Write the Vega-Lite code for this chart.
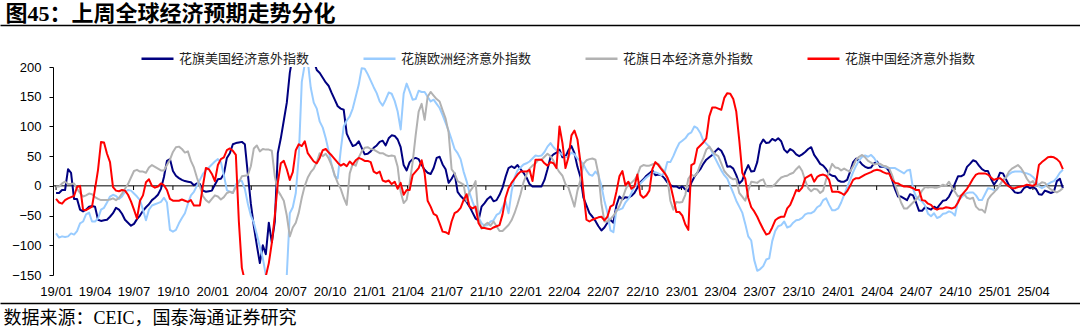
{
"$schema":"https://vega.github.io/schema/vega-lite/v6.json",
"width":1080,"height":208,"autosize":"none",
"padding":{"left":0,"top":67,"right":0,"bottom":53},
"background":"white",
"config":{"view":{"stroke":null},
 "axisY":{"orient":"left","offset":-53,"values":[-150,-100,-50,0,50,100,150,200],"domain":true,"domainColor":"#000000","domainWidth":1,
    "ticks":true,"tickColor":"#000000","tickSize":4,"tickWidth":1,"grid":false,"labelPadding":8,"labelFont":"Liberation Sans","labelFontSize":13,"labelColor":"#000000"}},
"datasets":{
"quarters":[{"q":"2019-01-01"},{"q":"2019-04-01"},{"q":"2019-07-01"},{"q":"2019-10-01"},{"q":"2020-01-01"},{"q":"2020-04-01"},{"q":"2020-07-01"},{"q":"2020-10-01"},{"q":"2021-01-01"},{"q":"2021-04-01"},{"q":"2021-07-01"},{"q":"2021-10-01"},{"q":"2022-01-01"},{"q":"2022-04-01"},{"q":"2022-07-01"},{"q":"2022-10-01"},{"q":"2023-01-01"},{"q":"2023-04-01"},{"q":"2023-07-01"},{"q":"2023-10-01"},{"q":"2024-01-01"},{"q":"2024-04-01"},{"q":"2024-07-01"},{"q":"2024-10-01"},{"q":"2025-01-01"},{"q":"2025-04-01"}],
"main":[
{"d":"2019-01-01","us":-12,"eu":-80,"jp":-1,"cn":-22},
{"d":"2019-01-08","us":-12,"eu":-87,"jp":-1,"cn":-28},
{"d":"2019-01-15","us":-7,"eu":-85,"jp":4,"cn":-30},
{"d":"2019-01-22","us":-7,"eu":-86,"jp":7,"cn":-24},
{"d":"2019-01-29","us":28,"eu":-85,"jp":3,"cn":-21},
{"d":"2019-02-05","us":22,"eu":-80,"jp":3,"cn":-19},
{"d":"2019-02-12","us":-22,"eu":-82,"jp":4,"cn":-17},
{"d":"2019-02-19","us":-22,"eu":-76,"jp":-5,"cn":-2},
{"d":"2019-02-26","us":-40,"eu":-63,"jp":-12,"cn":0},
{"d":"2019-03-05","us":-43,"eu":-60,"jp":-18,"cn":-40},
{"d":"2019-03-12","us":-40,"eu":-48,"jp":-16,"cn":-41},
{"d":"2019-03-19","us":-35,"eu":-45,"jp":-13,"cn":-38},
{"d":"2019-03-26","us":-34,"eu":-60,"jp":-14,"cn":-35},
{"d":"2019-04-02","us":-35,"eu":-60,"jp":-19,"cn":-5},
{"d":"2019-04-09","us":-57,"eu":-55,"jp":-22,"cn":27},
{"d":"2019-04-16","us":-59,"eu":-40,"jp":-24,"cn":74},
{"d":"2019-04-23","us":-58,"eu":-37,"jp":-24,"cn":73},
{"d":"2019-04-30","us":-57,"eu":-28,"jp":-24,"cn":54},
{"d":"2019-05-07","us":-52,"eu":-18,"jp":-23,"cn":40},
{"d":"2019-05-14","us":-46,"eu":-15,"jp":-21,"cn":-2},
{"d":"2019-05-21","us":-37,"eu":-17,"jp":-24,"cn":-8},
{"d":"2019-05-28","us":-40,"eu":-22,"jp":-20,"cn":-9},
{"d":"2019-06-04","us":-47,"eu":-18,"jp":-13,"cn":-7},
{"d":"2019-06-11","us":-57,"eu":-10,"jp":-5,"cn":-8},
{"d":"2019-06-18","us":-62,"eu":-7,"jp":3,"cn":-15},
{"d":"2019-06-25","us":-67,"eu":-8,"jp":14,"cn":-26},
{"d":"2019-07-02","us":-64,"eu":-13,"jp":25,"cn":-40},
{"d":"2019-07-09","us":-56,"eu":-18,"jp":27,"cn":-55},
{"d":"2019-07-16","us":-50,"eu":-24,"jp":24,"cn":-25},
{"d":"2019-07-23","us":-42,"eu":-40,"jp":24,"cn":-16},
{"d":"2019-07-30","us":-36,"eu":-58,"jp":22,"cn":6},
{"d":"2019-08-06","us":-31,"eu":-40,"jp":31,"cn":11},
{"d":"2019-08-13","us":-24,"eu":-33,"jp":35,"cn":0},
{"d":"2019-08-20","us":-20,"eu":-31,"jp":32,"cn":-3},
{"d":"2019-08-27","us":-15,"eu":-29,"jp":29,"cn":-1},
{"d":"2019-09-03","us":-5,"eu":-27,"jp":26,"cn":4},
{"d":"2019-09-10","us":15,"eu":-20,"jp":26,"cn":1},
{"d":"2019-09-17","us":42,"eu":-28,"jp":35,"cn":-7},
{"d":"2019-09-24","us":45,"eu":-74,"jp":44,"cn":-22},
{"d":"2019-10-01","us":25,"eu":-77,"jp":57,"cn":-25},
{"d":"2019-10-08","us":17,"eu":-74,"jp":65,"cn":-25},
{"d":"2019-10-15","us":13,"eu":-63,"jp":66,"cn":-25},
{"d":"2019-10-22","us":10,"eu":-54,"jp":62,"cn":-23},
{"d":"2019-10-29","us":8,"eu":-46,"jp":56,"cn":-25},
{"d":"2019-11-05","us":7,"eu":-30,"jp":58,"cn":-27},
{"d":"2019-11-12","us":6,"eu":-16,"jp":42,"cn":-24},
{"d":"2019-11-19","us":1,"eu":-10,"jp":31,"cn":-33},
{"d":"2019-11-26","us":4,"eu":0,"jp":14,"cn":-33},
{"d":"2019-12-03","us":3,"eu":10,"jp":-1,"cn":-33},
{"d":"2019-12-10","us":-8,"eu":20,"jp":-17,"cn":0},
{"d":"2019-12-17","us":-10,"eu":26,"jp":-24,"cn":30},
{"d":"2019-12-24","us":-9,"eu":31,"jp":-28,"cn":28},
{"d":"2019-12-31","us":-8,"eu":36,"jp":-22,"cn":20},
{"d":"2020-01-07","us":2,"eu":41,"jp":-16,"cn":8},
{"d":"2020-01-14","us":11,"eu":45,"jp":-18,"cn":35},
{"d":"2020-01-21","us":12,"eu":40,"jp":-23,"cn":45},
{"d":"2020-01-28","us":20,"eu":18,"jp":-19,"cn":48},
{"d":"2020-02-04","us":47,"eu":-7,"jp":-12,"cn":60},
{"d":"2020-02-11","us":55,"eu":-10,"jp":-10,"cn":63},
{"d":"2020-02-18","us":70,"eu":-12,"jp":-12,"cn":59},
{"d":"2020-02-25","us":72,"eu":2,"jp":-2,"cn":52},
{"d":"2020-03-03","us":73,"eu":9,"jp":6,"cn":-60},
{"d":"2020-03-10","us":74,"eu":8,"jp":16,"cn":-138},
{"d":"2020-03-17","us":70,"eu":-5,"jp":17,"cn":-160},
{"d":"2020-03-24","us":20,"eu":-30,"jp":18,"cn":-165},
{"d":"2020-03-31","us":-30,"eu":-50,"jp":33,"cn":-170},
{"d":"2020-04-07","us":-68,"eu":-62,"jp":63,"cn":-175},
{"d":"2020-04-14","us":-100,"eu":-82,"jp":68,"cn":-170},
{"d":"2020-04-21","us":-130,"eu":-102,"jp":58,"cn":-165},
{"d":"2020-04-28","us":-100,"eu":-122,"jp":62,"cn":-160},
{"d":"2020-05-05","us":-115,"eu":-150,"jp":61,"cn":-152},
{"d":"2020-05-12","us":-62,"eu":-175,"jp":61,"cn":-130},
{"d":"2020-05-19","us":-95,"eu":-190,"jp":59,"cn":-96},
{"d":"2020-05-26","us":-60,"eu":-190,"jp":16,"cn":-50},
{"d":"2020-06-02","us":55,"eu":-180,"jp":-8,"cn":5},
{"d":"2020-06-09","us":80,"eu":-170,"jp":-16,"cn":38},
{"d":"2020-06-16","us":110,"eu":-165,"jp":-25,"cn":42},
{"d":"2020-06-23","us":140,"eu":-150,"jp":-50,"cn":28},
{"d":"2020-06-30","us":190,"eu":-46,"jp":-85,"cn":10},
{"d":"2020-07-07","us":220,"eu":-36,"jp":-70,"cn":23},
{"d":"2020-07-14","us":240,"eu":-12,"jp":-62,"cn":60},
{"d":"2020-07-21","us":250,"eu":50,"jp":-45,"cn":70},
{"d":"2020-07-28","us":250,"eu":175,"jp":-20,"cn":67},
{"d":"2020-08-04","us":240,"eu":205,"jp":0,"cn":75},
{"d":"2020-08-11","us":235,"eu":210,"jp":14,"cn":55},
{"d":"2020-08-18","us":225,"eu":165,"jp":23,"cn":48},
{"d":"2020-08-25","us":210,"eu":140,"jp":29,"cn":41},
{"d":"2020-09-01","us":195,"eu":130,"jp":40,"cn":38},
{"d":"2020-09-08","us":190,"eu":108,"jp":55,"cn":47},
{"d":"2020-09-15","us":182,"eu":98,"jp":50,"cn":60},
{"d":"2020-09-22","us":174,"eu":80,"jp":54,"cn":62},
{"d":"2020-09-29","us":168,"eu":58,"jp":46,"cn":56},
{"d":"2020-10-06","us":156,"eu":35,"jp":34,"cn":51},
{"d":"2020-10-13","us":145,"eu":16,"jp":18,"cn":45},
{"d":"2020-10-20","us":134,"eu":13,"jp":5,"cn":39},
{"d":"2020-10-27","us":130,"eu":60,"jp":-5,"cn":34},
{"d":"2020-11-03","us":128,"eu":100,"jp":-20,"cn":37},
{"d":"2020-11-10","us":88,"eu":110,"jp":-32,"cn":33},
{"d":"2020-11-17","us":77,"eu":117,"jp":21,"cn":41},
{"d":"2020-11-24","us":67,"eu":130,"jp":37,"cn":36},
{"d":"2020-12-01","us":69,"eu":150,"jp":34,"cn":43},
{"d":"2020-12-08","us":75,"eu":170,"jp":48,"cn":47},
{"d":"2020-12-15","us":64,"eu":198,"jp":58,"cn":45},
{"d":"2020-12-22","us":53,"eu":197,"jp":64,"cn":42},
{"d":"2020-12-29","us":54,"eu":188,"jp":65,"cn":42},
{"d":"2021-01-05","us":58,"eu":177,"jp":62,"cn":40},
{"d":"2021-01-12","us":64,"eu":166,"jp":61,"cn":24},
{"d":"2021-01-19","us":68,"eu":156,"jp":58,"cn":21},
{"d":"2021-01-26","us":74,"eu":142,"jp":55,"cn":24},
{"d":"2021-02-02","us":76,"eu":135,"jp":55,"cn":9},
{"d":"2021-02-09","us":68,"eu":145,"jp":52,"cn":7},
{"d":"2021-02-16","us":80,"eu":157,"jp":50,"cn":9},
{"d":"2021-02-23","us":85,"eu":155,"jp":51,"cn":3},
{"d":"2021-03-02","us":84,"eu":143,"jp":50,"cn":7},
{"d":"2021-03-09","us":78,"eu":125,"jp":32,"cn":-5},
{"d":"2021-03-16","us":65,"eu":95,"jp":-10,"cn":5},
{"d":"2021-03-23","us":35,"eu":155,"jp":-29,"cn":-15},
{"d":"2021-03-30","us":26,"eu":172,"jp":-23,"cn":-7},
{"d":"2021-04-06","us":40,"eu":159,"jp":4,"cn":-7},
{"d":"2021-04-13","us":45,"eu":145,"jp":40,"cn":18},
{"d":"2021-04-20","us":47,"eu":146,"jp":85,"cn":24},
{"d":"2021-04-27","us":45,"eu":160,"jp":125,"cn":30},
{"d":"2021-05-04","us":35,"eu":158,"jp":138,"cn":43},
{"d":"2021-05-11","us":27,"eu":158,"jp":111,"cn":21},
{"d":"2021-05-18","us":22,"eu":150,"jp":150,"cn":-25},
{"d":"2021-05-25","us":20,"eu":142,"jp":158,"cn":-35},
{"d":"2021-06-01","us":30,"eu":145,"jp":152,"cn":-47},
{"d":"2021-06-08","us":47,"eu":138,"jp":146,"cn":-50},
{"d":"2021-06-15","us":49,"eu":131,"jp":142,"cn":-63},
{"d":"2021-06-22","us":36,"eu":119,"jp":127,"cn":-77},
{"d":"2021-06-29","us":28,"eu":106,"jp":113,"cn":-78},
{"d":"2021-07-06","us":5,"eu":93,"jp":90,"cn":-81},
{"d":"2021-07-13","us":12,"eu":78,"jp":28,"cn":-60},
{"d":"2021-07-20","us":21,"eu":62,"jp":21,"cn":-46},
{"d":"2021-07-27","us":-10,"eu":55,"jp":8,"cn":-43},
{"d":"2021-08-03","us":-17,"eu":45,"jp":5,"cn":-37},
{"d":"2021-08-10","us":-22,"eu":24,"jp":2,"cn":-24},
{"d":"2021-08-17","us":-27,"eu":8,"jp":-26,"cn":-14},
{"d":"2021-08-24","us":-35,"eu":-12,"jp":-10,"cn":-35},
{"d":"2021-08-31","us":-45,"eu":-27,"jp":-3,"cn":-38},
{"d":"2021-09-07","us":-55,"eu":-40,"jp":8,"cn":-35},
{"d":"2021-09-14","us":-58,"eu":-53,"jp":-55,"cn":-63},
{"d":"2021-09-21","us":-35,"eu":-63,"jp":-72,"cn":-71},
{"d":"2021-09-28","us":-29,"eu":-67,"jp":-66,"cn":-71},
{"d":"2021-10-05","us":-22,"eu":-66,"jp":-62,"cn":-72},
{"d":"2021-10-12","us":-18,"eu":-60,"jp":-67,"cn":-73},
{"d":"2021-10-19","us":-26,"eu":-58,"jp":-60,"cn":-70},
{"d":"2021-10-26","us":-24,"eu":-49,"jp":-68,"cn":-68},
{"d":"2021-11-02","us":-15,"eu":-46,"jp":-76,"cn":-66},
{"d":"2021-11-09","us":-3,"eu":-36,"jp":-76,"cn":-48},
{"d":"2021-11-16","us":15,"eu":-26,"jp":-71,"cn":-20},
{"d":"2021-11-23","us":30,"eu":-46,"jp":-66,"cn":-4},
{"d":"2021-11-30","us":33,"eu":-10,"jp":-58,"cn":5},
{"d":"2021-12-07","us":30,"eu":14,"jp":-46,"cn":12},
{"d":"2021-12-14","us":35,"eu":26,"jp":-31,"cn":19},
{"d":"2021-12-21","us":28,"eu":31,"jp":-14,"cn":24},
{"d":"2021-12-28","us":22,"eu":36,"jp":6,"cn":24},
{"d":"2022-01-04","us":14,"eu":38,"jp":19,"cn":24},
{"d":"2022-01-11","us":3,"eu":41,"jp":29,"cn":27},
{"d":"2022-01-18","us":-1,"eu":46,"jp":34,"cn":8},
{"d":"2022-01-25","us":-1,"eu":51,"jp":38,"cn":44},
{"d":"2022-02-01","us":-1,"eu":50,"jp":44,"cn":44},
{"d":"2022-02-08","us":-1,"eu":51,"jp":44,"cn":44},
{"d":"2022-02-15","us":10,"eu":57,"jp":49,"cn":38},
{"d":"2022-02-22","us":28,"eu":66,"jp":54,"cn":34},
{"d":"2022-03-01","us":48,"eu":72,"jp":50,"cn":40},
{"d":"2022-03-08","us":53,"eu":65,"jp":42,"cn":38},
{"d":"2022-03-15","us":56,"eu":60,"jp":31,"cn":30},
{"d":"2022-03-22","us":61,"eu":56,"jp":23,"cn":100},
{"d":"2022-03-29","us":48,"eu":52,"jp":17,"cn":72},
{"d":"2022-04-05","us":49,"eu":48,"jp":3,"cn":30},
{"d":"2022-04-12","us":60,"eu":50,"jp":-3,"cn":48},
{"d":"2022-04-19","us":67,"eu":56,"jp":-19,"cn":85},
{"d":"2022-04-26","us":55,"eu":53,"jp":-35,"cn":93},
{"d":"2022-05-03","us":32,"eu":46,"jp":-8,"cn":78},
{"d":"2022-05-10","us":15,"eu":42,"jp":10,"cn":40},
{"d":"2022-05-17","us":-20,"eu":36,"jp":37,"cn":-10},
{"d":"2022-05-24","us":-33,"eu":26,"jp":43,"cn":-57},
{"d":"2022-05-31","us":-46,"eu":19,"jp":45,"cn":-60},
{"d":"2022-06-07","us":-52,"eu":17,"jp":46,"cn":-57},
{"d":"2022-06-14","us":-59,"eu":24,"jp":44,"cn":-55},
{"d":"2022-06-21","us":-68,"eu":18,"jp":20,"cn":-53},
{"d":"2022-06-28","us":-75,"eu":0,"jp":-30,"cn":-52},
{"d":"2022-07-05","us":-70,"eu":-25,"jp":-60,"cn":-58},
{"d":"2022-07-12","us":-62,"eu":-45,"jp":-60,"cn":-52},
{"d":"2022-07-19","us":-57,"eu":-75,"jp":-56,"cn":-35},
{"d":"2022-07-26","us":-62,"eu":-78,"jp":-50,"cn":-32},
{"d":"2022-08-02","us":-33,"eu":-40,"jp":-43,"cn":-10},
{"d":"2022-08-09","us":-18,"eu":-40,"jp":-34,"cn":16},
{"d":"2022-08-16","us":-23,"eu":-38,"jp":-22,"cn":25},
{"d":"2022-08-23","us":-19,"eu":-28,"jp":-7,"cn":1},
{"d":"2022-08-30","us":-20,"eu":-22,"jp":4,"cn":7},
{"d":"2022-09-06","us":-17,"eu":-12,"jp":5,"cn":-5},
{"d":"2022-09-13","us":-12,"eu":-1,"jp":10,"cn":-1},
{"d":"2022-09-20","us":-3,"eu":3,"jp":18,"cn":19},
{"d":"2022-09-27","us":6,"eu":4,"jp":32,"cn":-15},
{"d":"2022-10-04","us":11,"eu":9,"jp":35,"cn":-20},
{"d":"2022-10-11","us":17,"eu":14,"jp":34,"cn":-16},
{"d":"2022-10-18","us":21,"eu":18,"jp":34,"cn":-8},
{"d":"2022-10-25","us":26,"eu":22,"jp":36,"cn":28},
{"d":"2022-11-01","us":18,"eu":23,"jp":38,"cn":40},
{"d":"2022-11-08","us":19,"eu":21,"jp":37,"cn":35},
{"d":"2022-11-15","us":18,"eu":18,"jp":30,"cn":28},
{"d":"2022-11-22","us":13,"eu":21,"jp":24,"cn":22},
{"d":"2022-11-29","us":6,"eu":40,"jp":14,"cn":14},
{"d":"2022-12-06","us":1,"eu":40,"jp":-25,"cn":2},
{"d":"2022-12-13","us":-1,"eu":50,"jp":-40,"cn":-20},
{"d":"2022-12-20","us":-1,"eu":62,"jp":-27,"cn":-44},
{"d":"2022-12-27","us":-4,"eu":72,"jp":-28,"cn":-44},
{"d":"2023-01-03","us":-1,"eu":76,"jp":-27,"cn":-50},
{"d":"2023-01-10","us":-6,"eu":80,"jp":-15,"cn":-65},
{"d":"2023-01-17","us":-9,"eu":87,"jp":12,"cn":-74},
{"d":"2023-01-24","us":5,"eu":90,"jp":19,"cn":35},
{"d":"2023-01-31","us":15,"eu":100,"jp":16,"cn":38},
{"d":"2023-02-07","us":22,"eu":97,"jp":22,"cn":63},
{"d":"2023-02-14","us":28,"eu":89,"jp":36,"cn":68},
{"d":"2023-02-21","us":37,"eu":76,"jp":47,"cn":73},
{"d":"2023-02-28","us":44,"eu":71,"jp":61,"cn":80},
{"d":"2023-03-07","us":48,"eu":66,"jp":66,"cn":117},
{"d":"2023-03-14","us":52,"eu":56,"jp":59,"cn":132},
{"d":"2023-03-21","us":58,"eu":46,"jp":53,"cn":132},
{"d":"2023-03-28","us":63,"eu":36,"jp":50,"cn":130},
{"d":"2023-04-04","us":59,"eu":26,"jp":38,"cn":128},
{"d":"2023-04-11","us":49,"eu":18,"jp":25,"cn":148},
{"d":"2023-04-18","us":32,"eu":12,"jp":19,"cn":156},
{"d":"2023-04-25","us":33,"eu":0,"jp":14,"cn":155},
{"d":"2023-05-02","us":29,"eu":-12,"jp":11,"cn":146},
{"d":"2023-05-09","us":18,"eu":-25,"jp":12,"cn":125},
{"d":"2023-05-16","us":4,"eu":-35,"jp":-12,"cn":77},
{"d":"2023-05-23","us":9,"eu":-45,"jp":-18,"cn":22},
{"d":"2023-05-30","us":24,"eu":-64,"jp":-25,"cn":12},
{"d":"2023-06-06","us":35,"eu":-85,"jp":-8,"cn":-20},
{"d":"2023-06-13","us":24,"eu":-92,"jp":7,"cn":-36},
{"d":"2023-06-20","us":25,"eu":-125,"jp":6,"cn":-43},
{"d":"2023-06-27","us":40,"eu":-143,"jp":5,"cn":-52},
{"d":"2023-07-04","us":69,"eu":-140,"jp":9,"cn":-63},
{"d":"2023-07-11","us":78,"eu":-135,"jp":11,"cn":-73},
{"d":"2023-07-18","us":72,"eu":-124,"jp":-1,"cn":-82},
{"d":"2023-07-25","us":73,"eu":-122,"jp":-1,"cn":-80},
{"d":"2023-08-01","us":79,"eu":-93,"jp":-1,"cn":-70},
{"d":"2023-08-08","us":76,"eu":-76,"jp":3,"cn":-58},
{"d":"2023-08-15","us":80,"eu":-68,"jp":9,"cn":-54},
{"d":"2023-08-22","us":75,"eu":-66,"jp":14,"cn":-52},
{"d":"2023-08-29","us":61,"eu":-60,"jp":16,"cn":-52},
{"d":"2023-09-05","us":56,"eu":-70,"jp":17,"cn":-38},
{"d":"2023-09-12","us":62,"eu":-68,"jp":20,"cn":-32},
{"d":"2023-09-19","us":59,"eu":-62,"jp":22,"cn":-20},
{"d":"2023-09-26","us":53,"eu":-58,"jp":28,"cn":-7},
{"d":"2023-10-03","us":50,"eu":-57,"jp":33,"cn":-9},
{"d":"2023-10-10","us":53,"eu":-54,"jp":25,"cn":-3},
{"d":"2023-10-17","us":57,"eu":-48,"jp":9,"cn":13},
{"d":"2023-10-24","us":62,"eu":-46,"jp":-4,"cn":16},
{"d":"2023-10-31","us":65,"eu":-46,"jp":-9,"cn":19},
{"d":"2023-11-07","us":52,"eu":-43,"jp":-5,"cn":7},
{"d":"2023-11-14","us":45,"eu":-36,"jp":-6,"cn":15},
{"d":"2023-11-21","us":37,"eu":-33,"jp":-12,"cn":18},
{"d":"2023-11-28","us":34,"eu":-24,"jp":-8,"cn":19},
{"d":"2023-12-05","us":28,"eu":-21,"jp":11,"cn":17},
{"d":"2023-12-12","us":20,"eu":-32,"jp":24,"cn":10},
{"d":"2023-12-19","us":17,"eu":-41,"jp":37,"cn":-10},
{"d":"2023-12-26","us":16,"eu":-41,"jp":31,"cn":-10},
{"d":"2024-01-02","us":9,"eu":-38,"jp":30,"cn":-10},
{"d":"2024-01-09","us":7,"eu":-28,"jp":26,"cn":-12},
{"d":"2024-01-16","us":7,"eu":-15,"jp":29,"cn":-15},
{"d":"2024-01-23","us":10,"eu":-2,"jp":26,"cn":-9},
{"d":"2024-01-30","us":24,"eu":10,"jp":24,"cn":0},
{"d":"2024-02-06","us":40,"eu":23,"jp":33,"cn":10},
{"d":"2024-02-13","us":46,"eu":34,"jp":44,"cn":13},
{"d":"2024-02-20","us":42,"eu":43,"jp":49,"cn":13},
{"d":"2024-02-27","us":36,"eu":49,"jp":52,"cn":16},
{"d":"2024-03-05","us":32,"eu":51,"jp":48,"cn":19},
{"d":"2024-03-12","us":30,"eu":49,"jp":42,"cn":21},
{"d":"2024-03-19","us":31,"eu":52,"jp":39,"cn":23},
{"d":"2024-03-26","us":38,"eu":47,"jp":36,"cn":26},
{"d":"2024-04-02","us":41,"eu":39,"jp":37,"cn":27},
{"d":"2024-04-09","us":32,"eu":35,"jp":37,"cn":26},
{"d":"2024-04-16","us":32,"eu":33,"jp":34,"cn":23},
{"d":"2024-04-23","us":31,"eu":31,"jp":33,"cn":21},
{"d":"2024-04-30","us":25,"eu":30,"jp":30,"cn":21},
{"d":"2024-05-07","us":10,"eu":30,"jp":18,"cn":10},
{"d":"2024-05-14","us":-6,"eu":30,"jp":2,"cn":5},
{"d":"2024-05-21","us":-18,"eu":27,"jp":-13,"cn":4},
{"d":"2024-05-28","us":-18,"eu":24,"jp":-28,"cn":1},
{"d":"2024-06-04","us":-21,"eu":21,"jp":-38,"cn":-1},
{"d":"2024-06-11","us":-24,"eu":26,"jp":-38,"cn":-1},
{"d":"2024-06-18","us":-14,"eu":27,"jp":-33,"cn":-2},
{"d":"2024-06-25","us":-16,"eu":-5,"jp":-28,"cn":-4},
{"d":"2024-07-02","us":-28,"eu":-18,"jp":-23,"cn":-7},
{"d":"2024-07-09","us":-42,"eu":-23,"jp":-18,"cn":-7},
{"d":"2024-07-16","us":-42,"eu":-26,"jp":-8,"cn":-24},
{"d":"2024-07-23","us":-36,"eu":-33,"jp":-2,"cn":-25},
{"d":"2024-07-30","us":-38,"eu":-47,"jp":-3,"cn":-30},
{"d":"2024-08-06","us":-40,"eu":-51,"jp":-2,"cn":-32},
{"d":"2024-08-13","us":-35,"eu":-46,"jp":-3,"cn":-38},
{"d":"2024-08-20","us":-38,"eu":-54,"jp":-3,"cn":-40},
{"d":"2024-08-27","us":-31,"eu":-52,"jp":-1,"cn":-38},
{"d":"2024-09-03","us":-25,"eu":-47,"jp":2,"cn":-38},
{"d":"2024-09-10","us":-24,"eu":-46,"jp":0,"cn":-36},
{"d":"2024-09-17","us":-18,"eu":-43,"jp":7,"cn":-37},
{"d":"2024-09-24","us":-8,"eu":-45,"jp":-3,"cn":-38},
{"d":"2024-10-01","us":4,"eu":-50,"jp":-10,"cn":-36},
{"d":"2024-10-08","us":16,"eu":-25,"jp":-18,"cn":-28},
{"d":"2024-10-15","us":16,"eu":-20,"jp":-16,"cn":-17},
{"d":"2024-10-22","us":19,"eu":-15,"jp":-14,"cn":-11},
{"d":"2024-10-29","us":32,"eu":-12,"jp":-20,"cn":-5},
{"d":"2024-11-05","us":37,"eu":-11,"jp":-22,"cn":3},
{"d":"2024-11-12","us":43,"eu":-11,"jp":-20,"cn":12},
{"d":"2024-11-19","us":41,"eu":-16,"jp":-35,"cn":19},
{"d":"2024-11-26","us":34,"eu":-24,"jp":-40,"cn":21},
{"d":"2024-12-03","us":28,"eu":-24,"jp":-40,"cn":21},
{"d":"2024-12-10","us":25,"eu":-14,"jp":-45,"cn":21},
{"d":"2024-12-17","us":25,"eu":-4,"jp":-23,"cn":19},
{"d":"2024-12-24","us":12,"eu":-5,"jp":-16,"cn":14},
{"d":"2024-12-31","us":2,"eu":-7,"jp":-11,"cn":10},
{"d":"2025-01-07","us":9,"eu":-6,"jp":-5,"cn":12},
{"d":"2025-01-14","us":22,"eu":2,"jp":2,"cn":13},
{"d":"2025-01-21","us":21,"eu":10,"jp":10,"cn":9},
{"d":"2025-01-28","us":11,"eu":14,"jp":14,"cn":3},
{"d":"2025-02-04","us":1,"eu":19,"jp":24,"cn":-1},
{"d":"2025-02-11","us":-5,"eu":23,"jp":29,"cn":-4},
{"d":"2025-02-18","us":-11,"eu":24,"jp":32,"cn":-4},
{"d":"2025-02-25","us":-12,"eu":24,"jp":35,"cn":-2},
{"d":"2025-03-04","us":-11,"eu":24,"jp":30,"cn":-1},
{"d":"2025-03-11","us":-4,"eu":22,"jp":22,"cn":0},
{"d":"2025-03-18","us":-1,"eu":21,"jp":12,"cn":2},
{"d":"2025-03-25","us":-4,"eu":19,"jp":5,"cn":1},
{"d":"2025-04-01","us":-2,"eu":15,"jp":8,"cn":0},
{"d":"2025-04-08","us":-5,"eu":9,"jp":0,"cn":3},
{"d":"2025-04-15","us":-14,"eu":-1,"jp":2,"cn":35},
{"d":"2025-04-22","us":-15,"eu":-4,"jp":6,"cn":40},
{"d":"2025-04-29","us":-8,"eu":-1,"jp":5,"cn":44},
{"d":"2025-05-06","us":-10,"eu":3,"jp":-2,"cn":48},
{"d":"2025-05-13","us":-12,"eu":6,"jp":-6,"cn":49},
{"d":"2025-05-20","us":-10,"eu":8,"jp":-9,"cn":48},
{"d":"2025-05-27","us":8,"eu":14,"jp":-11,"cn":45},
{"d":"2025-06-03","us":12,"eu":22,"jp":-8,"cn":40},
{"d":"2025-06-10","us":-4,"eu":27,"jp":-4,"cn":28}
]},
"layer":[
{"data":{"values":[{}]},
 "mark":{"type":"rule","color":"#000000","strokeWidth":1},
 "encoding":{
  "x":{"datum":{"year":2018,"month":12,"date":25,"utc":true},"type":"temporal","scale":{"type":"utc","domain":[{"year":2018,"month":8,"date":23,"utc":true},{"year":2025,"month":7,"date":20,"utc":true}]},
   "axis":{"orient":"bottom","offset":28,"domain":true,"domainColor":"#000000","domainWidth":1.5,"ticks":false,"tickSize":0,"labels":false,"grid":false,
    "title":"数据来源：CEIC，国泰海通证券研究","titleX":3,"titleY":20,"titleAlign":"left","titleAnchor":"start","titleBaseline":"alphabetic","titleAngle":0,
    "titleFont":"Liberation Serif, Noto Sans CJK SC","titleFontSize":18,"titleFontWeight":"normal","titleColor":"#000000"}},
  "x2":{"datum":{"year":2025,"month":6,"date":12,"utc":true}},
  "y":{"datum":0,"type":"quantitative","scale":{"domain":[-150,200],"nice":false,"zero":false},"axis":{"title":null}}
 }},
{"data":{"name":"quarters"},
 "mark":{"type":"rule","color":"#000000","strokeWidth":1},
 "encoding":{
  "x":{"field":"q","type":"temporal","scale":{"type":"utc","domain":[{"year":2018,"month":8,"date":23,"utc":true},{"year":2025,"month":7,"date":20,"utc":true}]},
   "axis":{"orient":"top","offset":42,"domain":true,"domainColor":"#000000","domainWidth":1.5,"ticks":false,"tickSize":0,"labels":false,"grid":false,
    "title":"图45：上周全球经济预期走势分化","titleX":5,"titleY":-5,"titleAlign":"left","titleAnchor":"start","titleBaseline":"alphabetic","titleAngle":0,
    "titleFont":"Liberation Serif, Noto Sans CJK SC","titleFontSize":22,"titleFontWeight":"bold","titleColor":"#000000"}},
  "y":{"datum":0,"type":"quantitative","axis":{"title":null}},
  "y2":{"datum":-7}
 }},
{"data":{"name":"main"},
 "transform":[{"fold":["us","eu","jp","cn"],"as":["s","v"]}],
 "mark":{"type":"line","clip":true,"strokeWidth":2,"strokeJoin":"round"},
 "encoding":{
  "x":{"field":"d","type":"temporal","scale":{"type":"utc","domain":[{"year":2018,"month":8,"date":23,"utc":true},{"year":2025,"month":7,"date":20,"utc":true}]},
   "axis":{"orient":"bottom","offset":0,"format":"%y/%m","labelOverlap":false,"labelFlush":false,"labelBound":false,
    "values":[{"year":2019,"month":1,"date":1,"utc":true},{"year":2019,"month":4,"date":1,"utc":true},{"year":2019,"month":7,"date":1,"utc":true},{"year":2019,"month":10,"date":1,"utc":true},{"year":2020,"month":1,"date":1,"utc":true},{"year":2020,"month":4,"date":1,"utc":true},{"year":2020,"month":7,"date":1,"utc":true},{"year":2020,"month":10,"date":1,"utc":true},{"year":2021,"month":1,"date":1,"utc":true},{"year":2021,"month":4,"date":1,"utc":true},{"year":2021,"month":7,"date":1,"utc":true},{"year":2021,"month":10,"date":1,"utc":true},{"year":2022,"month":1,"date":1,"utc":true},{"year":2022,"month":4,"date":1,"utc":true},{"year":2022,"month":7,"date":1,"utc":true},{"year":2022,"month":10,"date":1,"utc":true},{"year":2023,"month":1,"date":1,"utc":true},{"year":2023,"month":4,"date":1,"utc":true},{"year":2023,"month":7,"date":1,"utc":true},{"year":2023,"month":10,"date":1,"utc":true},{"year":2024,"month":1,"date":1,"utc":true},{"year":2024,"month":4,"date":1,"utc":true},{"year":2024,"month":7,"date":1,"utc":true},{"year":2024,"month":10,"date":1,"utc":true},{"year":2025,"month":1,"date":1,"utc":true},{"year":2025,"month":4,"date":1,"utc":true}],
    "domain":false,"ticks":false,"tickSize":0,"grid":false,
    "labelPadding":20,"labelBaseline":"alphabetic","labelFont":"Liberation Sans","labelFontSize":13,"labelColor":"#000000","title":null}},
  "y":{"field":"v","type":"quantitative","scale":{"domain":[-150,200],"nice":false,"zero":false},"axis":{"title":null}},
  "color":{"field":"s","type":"nominal",
   "scale":{"domain":["us","eu","jp","cn"],"range":["#000080","#99CCFF","#B2B2B2","#FF0000"]},
   "legend":{"orient":"none","legendX":140,"legendY":-26,"direction":"horizontal","columns":4,"columnPadding":48,
    "symbolType":"stroke","symbolSize":1024,"symbolStrokeWidth":2.5,"labelFont":"Noto Sans CJK SC","labelFontSize":13,"labelColor":"#222222",
    "labelOffset":4,"padding":0,"title":null,"labelLimit":300,
    "labelExpr":"datum.label == 'us' ? '花旗美国经济意外指数' : datum.label == 'eu' ? '花旗欧洲经济意外指数' : datum.label == 'jp' ? '花旗日本经济意外指数' : '花旗中国经济意外指数'"}}
 }}
],
"resolve":{"axis":{"x":"independent"}}
}
